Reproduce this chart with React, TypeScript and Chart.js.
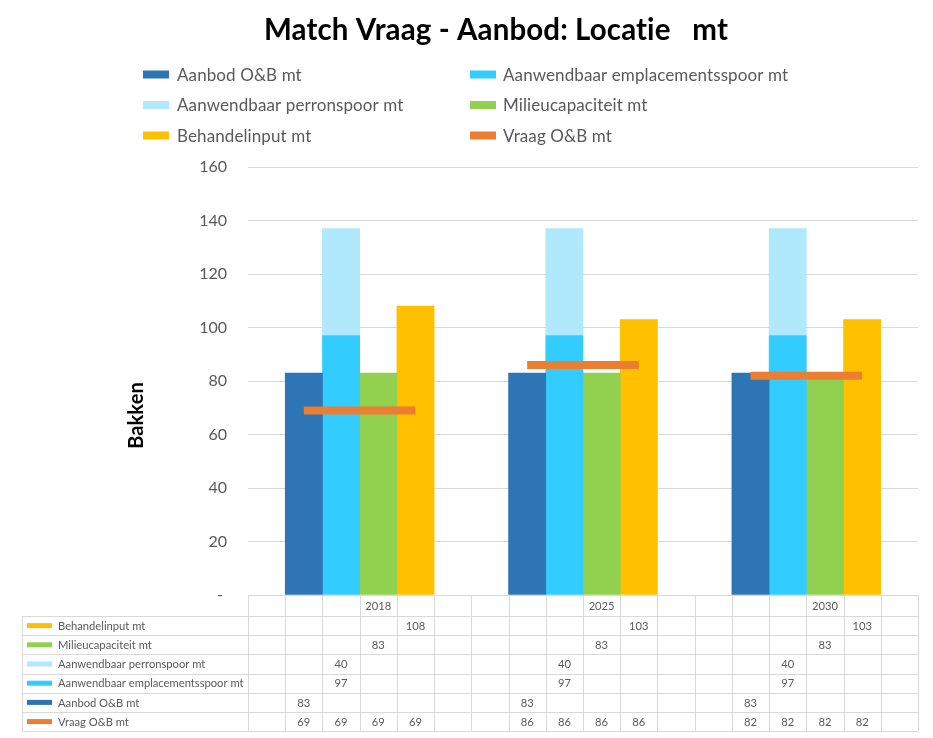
import React, { useEffect, useRef } from 'react';
import { Chart, registerables } from 'chart.js';

Chart.register(...registerables);

// ---------- data ----------
const years = ['2018', '2025', '2030'];
const slotsPerYear = 6;
const yearLabelSlot = 3;

const aanbodOB = [83, 83, 83];
const aanwendbaarEmplacement = [97, 97, 97];
const aanwendbaarPerron = [40, 40, 40];
const milieucapaciteit = [83, 83, 83];
const behandelinput = [108, 103, 103];
const vraagOB = [69, 86, 82];

const yMin = 0;
const yMax = 160;
const yStep = 20;

const titleText = 'Match Vraag - Aanbod: Locatie   mt';
const yAxisTitle = 'Bakken';

const seriesLabels = [
  'Aanbod O&B mt',
  'Aanwendbaar emplacementsspoor mt',
  'Aanwendbaar perronspoor mt',
  'Milieucapaciteit mt',
  'Behandelinput mt',
  'Vraag O&B mt',
];
const seriesValues = [aanbodOB, aanwendbaarEmplacement, aanwendbaarPerron, milieucapaciteit, behandelinput, vraagOB];
// which sub-column (within a year group) each series occupies
const seriesSlots = [[1], [2], [2], [3], [4], [1, 2, 3, 4]];
const seriesKinds = ['bar', 'bar', 'bar', 'bar', 'bar', 'line'];
const seriesColors = ['#2E75B6', '#33CCFF', '#B0E8FC', '#92D050', '#FFC000', '#ED7D31'];
// data table rows, top to bottom
const tableOrder = [4, 3, 2, 1, 0, 5];

// ---------- helpers ----------
const categoryLabels: string[] = [];
years.forEach((y) => {
  for (let s = 0; s < slotsPerYear; s++) categoryLabels.push(s === yearLabelSlot ? y : '');
});

function expand(values: number[], slots: number[]): (number | null)[] {
  const out: (number | null)[] = [];
  years.forEach((_, yi) => {
    for (let s = 0; s < slotsPerYear; s++) out.push(slots.includes(s) ? values[yi] : null);
  });
  return out;
}

const TEXT_GREY = '#595959';
const GRID = '#D9D9D9';
const FONT = 'Lato, "Open Sans", sans-serif';

function setSpacing(ctx: any, v: string) {
  try {
    ctx.letterSpacing = v;
  } catch (e) {}
}

const decorPlugin = {
  id: 'decor',
  afterDraw(chart: any) {
    const { ctx, chartArea: area } = chart;
    const xs = chart.scales.x;
    const labels: string[] = chart.data.labels;
    const n = labels.length;
    const colW = xs.getPixelForValue(1) - xs.getPixelForValue(0);
    const edge = (i: number) =>
      i < n ? xs.getPixelForValue(i) - colW / 2 : xs.getPixelForValue(n - 1) + colW / 2;
    const dsColor = (ds: any) => (ds.type === 'line' ? ds.borderColor : ds.backgroundColor);

    ctx.save();
    setSpacing(ctx, '0.1px');

    // title
    ctx.fillStyle = '#000000';
    ctx.font = `bold 29.5px ${FONT}`;
    ctx.textAlign = 'center';
    ctx.textBaseline = 'alphabetic';
    ctx.fillText(titleText, 496, 40);

    // y axis title
    ctx.save();
    ctx.translate(136.5, 415.5);
    ctx.rotate(-Math.PI / 2);
    ctx.font = `bold 20px ${FONT}`;
    ctx.textAlign = 'center';
    ctx.textBaseline = 'middle';
    ctx.fillText(yAxisTitle, 0, 0);
    ctx.restore();

    // legend (2 columns)
    const boxX = [143, 470];
    const textX = [177, 503];
    chart.data.datasets.forEach((ds: any, i: number) => {
      const col = i % 2;
      const row = Math.floor(i / 2);
      const cy = 74.5 + row * 30.5;
      ctx.fillStyle = dsColor(ds);
      ctx.fillRect(boxX[col], cy - 4, 26, 8);
      ctx.fillStyle = TEXT_GREY;
      ctx.font = `17px ${FONT}`;
      ctx.textAlign = 'left';
      ctx.textBaseline = 'middle';
      ctx.fillText(ds.label, textX[col], cy + 1);
    });

    // data table
    setSpacing(ctx, '0px');
    const top = area.bottom;
    const headH = 21;
    const rowH = 19.2;
    const rows = tableOrder.length;
    const tLeft = 22.5;
    const bodyTop = top + headH;
    const bottom = bodyTop + rows * rowH;
    const px = (v: number) => Math.round(v) + 0.5;

    ctx.strokeStyle = GRID;
    ctx.lineWidth = 1;
    ctx.beginPath();
    ctx.moveTo(edge(0), px(top));
    ctx.lineTo(edge(n), px(top));
    for (let k = 0; k <= rows; k++) {
      const y = px(bodyTop + k * rowH);
      ctx.moveTo(tLeft, y);
      ctx.lineTo(edge(n), y);
    }
    for (let i = 0; i <= n; i++) {
      const x = px(edge(i));
      ctx.moveTo(x, top);
      ctx.lineTo(x, bottom);
    }
    ctx.moveTo(tLeft, px(bodyTop));
    ctx.lineTo(tLeft, px(bottom));
    ctx.stroke();

    ctx.font = `11.2px ${FONT}`;
    ctx.textBaseline = 'middle';
    ctx.fillStyle = TEXT_GREY;
    ctx.textAlign = 'center';
    labels.forEach((lab, i) => {
      if (lab) ctx.fillText(lab, xs.getPixelForValue(i), top + headH / 2 + 1);
    });

    tableOrder.forEach((si, r) => {
      const ds = chart.data.datasets[si];
      const cy = bodyTop + r * rowH + rowH / 2;
      ctx.fillStyle = dsColor(ds);
      ctx.fillRect(27, cy - 2.5, 25, 5);
      ctx.fillStyle = TEXT_GREY;
      ctx.textAlign = 'left';
      ctx.fillText(ds.label, 58, cy + 0.5);
      ctx.textAlign = 'center';
      (ds.data as (number | null)[]).forEach((v, i) => {
        if (v !== null && v !== undefined) ctx.fillText(String(v), xs.getPixelForValue(i), cy + 0.5);
      });
    });

    ctx.restore();
  },
};

export default function App() {
  const canvasRef = useRef<HTMLCanvasElement | null>(null);

  useEffect(() => {
    document.body.style.margin = '0';
    const canvas = canvasRef.current;
    if (!canvas) return;

    const datasets: any[] = seriesLabels.map((label, i) => {
      const data = expand(seriesValues[i], seriesSlots[i]);
      if (seriesKinds[i] === 'line') {
        return {
          type: 'line',
          label,
          data,
          borderColor: seriesColors[i],
          backgroundColor: seriesColors[i],
          borderWidth: 8,
          borderCapStyle: 'butt',
          pointRadius: 0,
          pointHoverRadius: 0,
          spanGaps: false,
          fill: false,
          stack: 'line',
          order: 0,
        };
      }
      return {
        type: 'bar',
        label,
        data,
        backgroundColor: seriesColors[i],
        borderWidth: 0,
        barPercentage: 1,
        categoryPercentage: 1,
        stack: 'bars',
        order: 1,
      };
    });

    const chart = new Chart(canvas, {
      type: 'bar',
      data: { labels: categoryLabels, datasets },
      options: {
        animation: false,
        responsive: false,
        maintainAspectRatio: false,
        devicePixelRatio: 1,
        layout: { padding: { top: 167, right: 15, bottom: 143, left: 0 } },
        plugins: {
          legend: { display: false },
          title: { display: false },
          tooltip: { enabled: false },
        },
        scales: {
          x: { stacked: true, display: false, offset: true },
          y: {
            stacked: true,
            min: yMin,
            max: yMax,
            ticks: {
              stepSize: yStep,
              padding: 21,
              color: TEXT_GREY,
              font: { family: FONT, size: 16 },
              callback: (v: any) => (Number(v) === 0 ? '- ' : String(v)),
            },
            grid: { color: GRID, drawTicks: false, lineWidth: 1 },
            border: { display: false },
            afterFit: (s: any) => {
              s.width = 248;
            },
          },
        },
      } as any,
      plugins: [decorPlugin],
    });

    let alive = true;
    if ((document as any).fonts && (document as any).fonts.ready) {
      (document as any).fonts.ready.then(() => {
        if (alive) chart.update();
      });
    }

    return () => {
      alive = false;
      chart.destroy();
    };
  }, []);

  return (
    <div style={{ width: 933, height: 738, background: '#ffffff' }}>
      <canvas ref={canvasRef} width={933} height={738} style={{ display: 'block' }} />
    </div>
  );
}
